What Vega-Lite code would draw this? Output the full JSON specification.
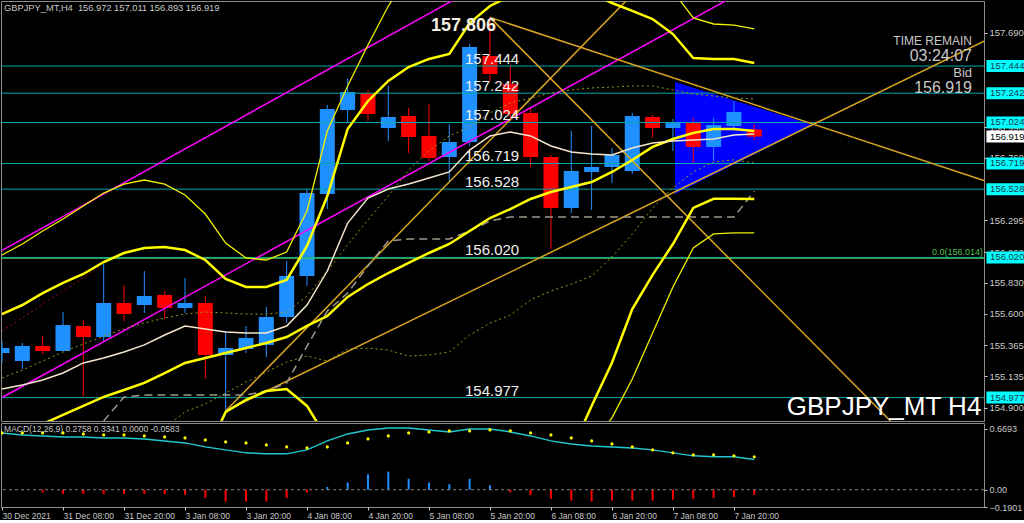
{
"$schema":"https://vega.github.io/schema/vega-lite/v6.json",
"background":"#000000",
"padding":0,
"spacing":0,
"config":{
 "view":{"stroke":"#8c8c8c","strokeWidth":1},
 "scale":{"continuousPadding":0},
 "axis":{"grid":false,"domain":false,"labelColor":"#c8c8c8","tickColor":"#c8c8c8","labelFont":"Liberation Sans","labelFontSize":9.5,"tickSize":3,"labelPadding":2},
 "text":{"font":"Liberation Sans"}
},
"datasets":{
 "candles":[
  {"i":0,"o":155.309,"h":155.398,"l":155.235,"c":155.346},
  {"i":1,"o":155.250,"h":155.384,"l":155.190,"c":155.361},
  {"i":2,"o":155.361,"h":155.435,"l":155.302,"c":155.324},
  {"i":3,"o":155.324,"h":155.614,"l":155.320,"c":155.517},
  {"i":4,"o":155.510,"h":155.555,"l":154.989,"c":155.428},
  {"i":5,"o":155.428,"h":155.971,"l":155.398,"c":155.681},
  {"i":6,"o":155.681,"h":155.815,"l":155.547,"c":155.599},
  {"i":7,"o":155.666,"h":155.919,"l":155.607,"c":155.733},
  {"i":8,"o":155.741,"h":155.770,"l":155.562,"c":155.644},
  {"i":9,"o":155.644,"h":155.867,"l":155.607,"c":155.681},
  {"i":10,"o":155.681,"h":155.733,"l":155.116,"c":155.294},
  {"i":11,"o":155.294,"h":155.473,"l":154.878,"c":155.346},
  {"i":12,"o":155.339,"h":155.510,"l":155.309,"c":155.421},
  {"i":13,"o":155.369,"h":155.651,"l":155.279,"c":155.577},
  {"i":14,"o":155.577,"h":155.994,"l":155.532,"c":155.882},
  {"i":15,"o":155.882,"h":156.529,"l":155.808,"c":156.500},
  {"i":16,"o":156.492,"h":157.154,"l":156.381,"c":157.125},
  {"i":17,"o":157.117,"h":157.355,"l":157.020,"c":157.251},
  {"i":18,"o":157.244,"h":157.266,"l":157.035,"c":157.087},
  {"i":19,"o":156.983,"h":157.296,"l":156.886,"c":157.065},
  {"i":20,"o":157.072,"h":157.132,"l":156.797,"c":156.916},
  {"i":21,"o":156.924,"h":157.162,"l":156.738,"c":156.760},
  {"i":22,"o":156.767,"h":157.013,"l":156.589,"c":156.879},
  {"i":23,"o":156.879,"h":157.608,"l":156.849,"c":157.586},
  {"i":24,"o":157.519,"h":157.806,"l":157.333,"c":157.385},
  {"i":25,"o":157.310,"h":157.444,"l":157.035,"c":157.087},
  {"i":26,"o":157.095,"h":157.132,"l":156.693,"c":156.767},
  {"i":27,"o":156.767,"h":156.782,"l":156.083,"c":156.388},
  {"i":28,"o":156.388,"h":156.961,"l":156.351,"c":156.663},
  {"i":29,"o":156.656,"h":156.998,"l":156.373,"c":156.693},
  {"i":30,"o":156.693,"h":156.834,"l":156.574,"c":156.782},
  {"i":31,"o":156.663,"h":157.095,"l":156.641,"c":157.072},
  {"i":32,"o":157.065,"h":157.080,"l":156.909,"c":156.983},
  {"i":33,"o":156.983,"h":157.050,"l":156.812,"c":157.020},
  {"i":34,"o":157.020,"h":157.058,"l":156.723,"c":156.842},
  {"i":35,"o":156.842,"h":157.058,"l":156.738,"c":157.005},
  {"i":36,"o":156.998,"h":157.184,"l":156.976,"c":157.102},
  {"i":37,"o":156.972,"h":157.011,"l":156.893,"c":156.919}
 ],
 "ind":[
  {"i":0,"a":156.038,"b":155.599,"m":154.639,"bl":153.679,"al":153.240,"ma":155.041,"eu":155.123,"el":154.155,"dr":155.473,"zz":null},
  {"i":1,"a":156.120,"b":155.666,"m":154.706,"bl":153.746,"al":153.292,"ma":155.071,"eu":155.182,"el":154.230,"dr":155.569,"zz":null},
  {"i":2,"a":156.217,"b":155.755,"m":154.781,"bl":153.807,"al":153.345,"ma":155.108,"eu":155.249,"el":154.313,"dr":155.674,"zz":null},
  {"i":3,"a":156.306,"b":155.830,"m":154.848,"bl":153.866,"al":153.390,"ma":155.160,"eu":155.316,"el":154.380,"dr":155.770,"zz":null},
  {"i":4,"a":156.403,"b":155.897,"m":154.915,"bl":153.933,"al":153.427,"ma":155.235,"eu":155.376,"el":154.454,"dr":155.867,"zz":null},
  {"i":5,"a":156.499,"b":155.986,"m":154.982,"bl":153.978,"al":153.465,"ma":155.272,"eu":155.435,"el":154.529,"dr":155.979,"zz":154.803},
  {"i":6,"a":156.566,"b":156.053,"m":155.034,"bl":154.015,"al":153.502,"ma":155.316,"eu":155.488,"el":154.580,"dr":null,"zz":154.982},
  {"i":7,"a":156.596,"b":156.090,"m":155.086,"bl":154.082,"al":153.576,"ma":155.369,"eu":155.532,"el":154.640,"dr":null,"zz":154.997},
  {"i":8,"a":156.566,"b":156.098,"m":155.160,"bl":154.222,"al":153.754,"ma":155.443,"eu":155.569,"el":154.751,"dr":null,"zz":154.997},
  {"i":9,"a":156.485,"b":156.075,"m":155.235,"bl":154.395,"al":153.985,"ma":155.510,"eu":155.599,"el":154.871,"dr":null,"zz":154.997},
  {"i":10,"a":156.343,"b":156.001,"m":155.272,"bl":154.543,"al":154.201,"ma":155.488,"eu":155.614,"el":154.930,"dr":null,"zz":154.997},
  {"i":11,"a":156.127,"b":155.860,"m":155.309,"bl":154.870,"al":154.491,"ma":155.465,"eu":155.607,"el":155.011,"dr":null,"zz":154.997},
  {"i":12,"a":156.016,"b":155.800,"m":155.346,"bl":154.960,"al":154.676,"ma":155.458,"eu":155.599,"el":155.093,"dr":null,"zz":154.997},
  {"i":13,"a":156.001,"b":155.800,"m":155.383,"bl":155.026,"al":154.765,"ma":155.458,"eu":155.599,"el":155.167,"dr":null,"zz":155.026},
  {"i":14,"a":156.060,"b":155.852,"m":155.428,"bl":155.041,"al":154.796,"ma":155.510,"eu":155.614,"el":155.242,"dr":null,"zz":155.086},
  {"i":15,"a":156.366,"b":156.105,"m":155.510,"bl":154.915,"al":154.654,"ma":155.666,"eu":155.733,"el":155.287,"dr":null,"zz":155.361},
  {"i":16,"a":156.961,"b":156.477,"m":155.584,"bl":154.670,"al":154.207,"ma":155.919,"eu":155.919,"el":155.249,"dr":null,"zz":155.621},
  {"i":17,"a":157.296,"b":156.976,"m":155.726,"bl":154.476,"al":154.156,"ma":156.276,"eu":156.113,"el":155.339,"dr":null,"zz":155.755},
  {"i":18,"a":157.601,"b":157.184,"m":155.822,"bl":154.460,"al":154.043,"ma":156.462,"eu":156.299,"el":155.345,"dr":null,"zz":155.956},
  {"i":19,"a":157.891,"b":157.333,"m":155.904,"bl":154.475,"al":153.917,"ma":156.529,"eu":156.477,"el":155.331,"dr":null,"zz":156.142},
  {"i":20,"a":158.114,"b":157.437,"m":155.979,"bl":154.521,"al":153.844,"ma":156.566,"eu":156.671,"el":155.287,"dr":null,"zz":156.157},
  {"i":21,"a":158.263,"b":157.497,"m":156.053,"bl":154.609,"al":153.843,"ma":156.611,"eu":156.812,"el":155.294,"dr":null,"zz":156.157},
  {"i":22,"a":158.374,"b":157.534,"m":156.120,"bl":154.706,"al":153.866,"ma":156.656,"eu":156.924,"el":155.316,"dr":null,"zz":156.157},
  {"i":23,"a":158.672,"b":157.764,"m":156.217,"bl":154.670,"al":153.762,"ma":156.819,"eu":156.991,"el":155.443,"dr":null,"zz":156.217},
  {"i":24,"a":158.746,"b":157.891,"m":156.313,"bl":154.600,"al":153.880,"ma":156.924,"eu":157.095,"el":155.531,"dr":null,"zz":156.291},
  {"i":25,"a":158.746,"b":157.965,"m":156.380,"bl":154.450,"al":154.014,"ma":156.953,"eu":157.169,"el":155.591,"dr":null,"zz":156.321},
  {"i":26,"a":158.709,"b":158.002,"m":156.455,"bl":154.250,"al":154.201,"ma":156.924,"eu":157.206,"el":155.704,"dr":null,"zz":156.321},
  {"i":27,"a":158.672,"b":158.017,"m":156.507,"bl":154.380,"al":154.342,"ma":156.849,"eu":157.244,"el":155.770,"dr":null,"zz":156.321},
  {"i":28,"a":158.598,"b":158.017,"m":156.544,"bl":154.580,"al":154.490,"ma":156.805,"eu":157.266,"el":155.822,"dr":null,"zz":156.321},
  {"i":29,"a":158.523,"b":157.988,"m":156.581,"bl":154.915,"al":154.639,"ma":156.790,"eu":157.281,"el":155.881,"dr":null,"zz":156.321},
  {"i":30,"a":158.486,"b":157.913,"m":156.656,"bl":155.236,"al":154.826,"ma":156.782,"eu":157.288,"el":156.024,"dr":null,"zz":156.321},
  {"i":31,"a":158.374,"b":157.854,"m":156.745,"bl":155.636,"al":155.116,"ma":156.834,"eu":157.296,"el":156.194,"dr":null,"zz":156.321},
  {"i":32,"a":158.226,"b":157.794,"m":156.842,"bl":155.890,"al":155.458,"ma":156.871,"eu":157.296,"el":156.388,"dr":null,"zz":156.321},
  {"i":33,"a":158.002,"b":157.682,"m":156.901,"bl":156.120,"al":155.800,"ma":156.886,"eu":157.266,"el":156.536,"dr":null,"zz":156.321},
  {"i":34,"a":157.802,"b":157.504,"m":156.946,"bl":156.388,"al":156.090,"ma":156.894,"eu":157.236,"el":156.656,"dr":null,"zz":156.321},
  {"i":35,"a":157.757,"b":157.496,"m":156.976,"bl":156.456,"al":156.195,"ma":156.901,"eu":157.221,"el":156.731,"dr":null,"zz":156.321},
  {"i":36,"a":157.749,"b":157.496,"m":156.976,"bl":156.456,"al":156.203,"ma":156.931,"eu":157.206,"el":156.746,"dr":null,"zz":156.321},
  {"i":37,"a":157.720,"b":157.467,"m":156.961,"bl":156.455,"al":156.202,"ma":156.938,"eu":157.199,"el":156.723,"dr":null,"zz":156.514}
 ],
 "tl":[
  {"id":"L1","i":24,"p":157.806},{"id":"L1","i":48.3,"p":156.593},
  {"id":"L2","i":24,"p":157.806},{"id":"L2","i":43.7,"p":154.803},
  {"id":"L3","i":11,"p":154.878},{"id":"L3","i":31,"p":157.976},
  {"id":"L4","i":11,"p":154.878},{"id":"L4","i":48.3,"p":157.630}
 ],
 "mg":[
  {"id":"M1","i":0,"p":156.072},{"id":"M1","i":23,"p":158.002},
  {"id":"M2","i":0,"p":154.978},{"id":"M2","i":36,"p":157.963}
 ],
 "tri":[
  {"i":33.1,"top":157.325,"bot":156.492},
  {"i":39.89,"top":157.006,"bot":157.006}
 ],
 "hl":[{"p":157.444},{"p":157.242},{"p":157.024},{"p":156.719},{"p":156.528},{"p":156.020},{"p":154.977}],
 "fib":[{"p":156.014}],
 "bid":[{"p":156.919}],
 "macd":[
  {"i":0,"cy":0.626,"ye":0.626,"h":0},
  {"i":1,"cy":0.604,"ye":0.626,"h":-0.005},
  {"i":2,"cy":0.593,"ye":0.626,"h":-0.03},
  {"i":3,"cy":0.582,"ye":0.626,"h":-0.045},
  {"i":4,"cy":0.582,"ye":0.615,"h":-0.045},
  {"i":5,"cy":0.571,"ye":0.604,"h":-0.045},
  {"i":6,"cy":0.571,"ye":0.604,"h":-0.045},
  {"i":7,"cy":0.560,"ye":0.593,"h":-0.045},
  {"i":8,"cy":0.538,"ye":0.582,"h":-0.05},
  {"i":9,"cy":0.516,"ye":0.571,"h":-0.055},
  {"i":10,"cy":0.472,"ye":0.549,"h":-0.09},
  {"i":11,"cy":0.439,"ye":0.527,"h":-0.13},
  {"i":12,"cy":0.406,"ye":0.516,"h":-0.13},
  {"i":13,"cy":0.395,"ye":0.494,"h":-0.13},
  {"i":14,"cy":0.395,"ye":0.472,"h":-0.09},
  {"i":15,"cy":0.439,"ye":0.461,"h":-0.03},
  {"i":16,"cy":0.538,"ye":0.472,"h":0.03},
  {"i":17,"cy":0.615,"ye":0.516,"h":0.08},
  {"i":18,"cy":0.659,"ye":0.560,"h":0.17},
  {"i":19,"cy":0.681,"ye":0.593,"h":0.2},
  {"i":20,"cy":0.681,"ye":0.626,"h":0.12},
  {"i":21,"cy":0.659,"ye":0.637,"h":0.08},
  {"i":22,"cy":0.637,"ye":0.648,"h":0.06},
  {"i":23,"cy":0.670,"ye":0.648,"h":0.12},
  {"i":24,"cy":0.670,"ye":0.659,"h":0.05},
  {"i":25,"cy":0.637,"ye":0.648,"h":-0.03},
  {"i":26,"cy":0.593,"ye":0.626,"h":-0.06},
  {"i":27,"cy":0.538,"ye":0.604,"h":-0.1},
  {"i":28,"cy":0.505,"ye":0.571,"h":-0.12},
  {"i":29,"cy":0.483,"ye":0.538,"h":-0.13},
  {"i":30,"cy":0.472,"ye":0.505,"h":-0.12},
  {"i":31,"cy":0.461,"ye":0.472,"h":-0.12},
  {"i":32,"cy":0.439,"ye":0.439,"h":-0.12},
  {"i":33,"cy":0.406,"ye":0.406,"h":-0.11},
  {"i":34,"cy":0.373,"ye":0.384,"h":-0.1},
  {"i":35,"cy":0.362,"ye":0.384,"h":-0.09},
  {"i":36,"cy":0.362,"ye":0.373,"h":-0.08},
  {"i":37,"cy":0.334,"ye":0.362,"h":-0.058}
 ]
},
"vconcat":[
 {
  "width":983,"height":420,
  "layer":[
   {"data":{"name":"tri"},"mark":{"type":"area","color":"#0000ff","opacity":1,"clip":true},
    "encoding":{
     "x":{"field":"i","type":"quantitative","scale":{"domain":[-0.05,48.3],"nice":false,"zero":false,"padding":0},"axis":null},
     "y":{"field":"top","type":"quantitative","scale":{"domain":[154.803,157.928],"nice":false,"zero":false,"padding":0},
          "axis":{"orient":"right","title":null,"values":[157.690,156.990,156.760,156.295,156.060,155.830,155.600,155.365,155.135,154.900],"format":".3f","labels":true,"ticks":true,"labelColor":"#c8c8c8","tickColor":"#c8c8c8","labelFontSize":9.5,"labelFont":"Liberation Sans","tickSize":3,"labelPadding":2,"zindex":0}},
     "y2":{"field":"bot"}}},
   {"data":{"name":"candles"},"mark":{"type":"rule","strokeWidth":1,"clip":true},
    "encoding":{"x":{"field":"i","type":"quantitative","scale":{"domain":[-0.05,48.3],"nice":false,"zero":false,"padding":0}},"y":{"field":"l","type":"quantitative","scale":{"domain":[154.803,157.928],"nice":false,"zero":false,"padding":0}},"y2":{"field":"h"},
     "color":{"condition":{"test":"datum.c >= datum.o","value":"#1e90ff"},"value":"#ff0000"}}},
   {"data":{"name":"candles"},"mark":{"type":"bar","width":15,"clip":true},
    "encoding":{"x":{"field":"i","type":"quantitative","scale":{"domain":[-0.05,48.3],"nice":false,"zero":false,"padding":0}},"y":{"field":"o","type":"quantitative","scale":{"domain":[154.803,157.928],"nice":false,"zero":false,"padding":0}},"y2":{"field":"c"},
     "color":{"condition":{"test":"datum.c >= datum.o","value":"#1e90ff"},"value":"#ff0000"}}},
   {"data":{"name":"hl"},"mark":{"type":"rule","color":"#00a8a8","strokeWidth":1},
    "encoding":{"y":{"field":"p","type":"quantitative","scale":{"domain":[154.803,157.928],"nice":false,"zero":false,"padding":0}}}},
   {"data":{"name":"fib"},"mark":{"type":"rule","color":"#55cc55","strokeWidth":1},
    "encoding":{"y":{"field":"p","type":"quantitative","scale":{"domain":[154.803,157.928],"nice":false,"zero":false,"padding":0}}}},
   {"data":{"name":"mg"},"mark":{"type":"line","color":"#ff00ff","strokeWidth":1.5,"clip":true},
    "encoding":{"x":{"field":"i","type":"quantitative","scale":{"domain":[-0.05,48.3],"nice":false,"zero":false,"padding":0}},"y":{"field":"p","type":"quantitative","scale":{"domain":[154.803,157.928],"nice":false,"zero":false,"padding":0}},"detail":{"field":"id"}}},
   {"data":{"name":"tl"},"mark":{"type":"line","color":"#daa520","strokeWidth":1.5,"clip":true},
    "encoding":{"x":{"field":"i","type":"quantitative","scale":{"domain":[-0.05,48.3],"nice":false,"zero":false,"padding":0}},"y":{"field":"p","type":"quantitative","scale":{"domain":[154.803,157.928],"nice":false,"zero":false,"padding":0}},"detail":{"field":"id"}}},
   {"data":{"name":"ind"},"mark":{"type":"line","color":"#9a9a1a","strokeWidth":1,"strokeDash":[2,3],"clip":true},
    "encoding":{"x":{"field":"i","type":"quantitative","scale":{"domain":[-0.05,48.3],"nice":false,"zero":false,"padding":0}},"y":{"field":"eu","type":"quantitative","scale":{"domain":[154.803,157.928],"nice":false,"zero":false,"padding":0}}}},
   {"data":{"name":"ind"},"mark":{"type":"line","color":"#9a9a1a","strokeWidth":1,"strokeDash":[2,3],"clip":true},
    "encoding":{"x":{"field":"i","type":"quantitative","scale":{"domain":[-0.05,48.3],"nice":false,"zero":false,"padding":0}},"y":{"field":"el","type":"quantitative","scale":{"domain":[154.803,157.928],"nice":false,"zero":false,"padding":0}}}},
   {"data":{"name":"ind"},"mark":{"type":"line","color":"#a01010","strokeWidth":1,"strokeDash":[2,3],"clip":true},
    "encoding":{"x":{"field":"i","type":"quantitative","scale":{"domain":[-0.05,48.3],"nice":false,"zero":false,"padding":0}},"y":{"field":"dr","type":"quantitative","scale":{"domain":[154.803,157.928],"nice":false,"zero":false,"padding":0}}}},
   {"data":{"name":"ind"},"mark":{"type":"line","color":"#a0988c","strokeWidth":1.5,"strokeDash":[8,5],"clip":true},
    "encoding":{"x":{"field":"i","type":"quantitative","scale":{"domain":[-0.05,48.3],"nice":false,"zero":false,"padding":0}},"y":{"field":"zz","type":"quantitative","scale":{"domain":[154.803,157.928],"nice":false,"zero":false,"padding":0}}}},
   {"data":{"name":"ind"},"mark":{"type":"line","color":"#f0f000","strokeWidth":1.3,"clip":true},
    "encoding":{"x":{"field":"i","type":"quantitative","scale":{"domain":[-0.05,48.3],"nice":false,"zero":false,"padding":0}},"y":{"field":"a","type":"quantitative","scale":{"domain":[154.803,157.928],"nice":false,"zero":false,"padding":0}}}},
   {"data":{"name":"ind"},"mark":{"type":"line","color":"#f0f000","strokeWidth":1.3,"clip":true},
    "encoding":{"x":{"field":"i","type":"quantitative","scale":{"domain":[-0.05,48.3],"nice":false,"zero":false,"padding":0}},"y":{"field":"al","type":"quantitative","scale":{"domain":[154.803,157.928],"nice":false,"zero":false,"padding":0}}}},
   {"data":{"name":"ind"},"mark":{"type":"line","color":"#ffff00","strokeWidth":2.5,"clip":true},
    "encoding":{"x":{"field":"i","type":"quantitative","scale":{"domain":[-0.05,48.3],"nice":false,"zero":false,"padding":0}},"y":{"field":"b","type":"quantitative","scale":{"domain":[154.803,157.928],"nice":false,"zero":false,"padding":0}}}},
   {"data":{"name":"ind"},"mark":{"type":"line","color":"#ffff00","strokeWidth":2.5,"clip":true},
    "encoding":{"x":{"field":"i","type":"quantitative","scale":{"domain":[-0.05,48.3],"nice":false,"zero":false,"padding":0}},"y":{"field":"bl","type":"quantitative","scale":{"domain":[154.803,157.928],"nice":false,"zero":false,"padding":0}}}},
   {"data":{"name":"ind"},"mark":{"type":"line","color":"#ffff00","strokeWidth":2.5,"clip":true},
    "encoding":{"x":{"field":"i","type":"quantitative","scale":{"domain":[-0.05,48.3],"nice":false,"zero":false,"padding":0}},"y":{"field":"m","type":"quantitative","scale":{"domain":[154.803,157.928],"nice":false,"zero":false,"padding":0}}}},
   {"data":{"name":"ind"},"mark":{"type":"line","color":"#f5e6cc","strokeWidth":1.5,"clip":true},
    "encoding":{"x":{"field":"i","type":"quantitative","scale":{"domain":[-0.05,48.3],"nice":false,"zero":false,"padding":0}},"y":{"field":"ma","type":"quantitative","scale":{"domain":[154.803,157.928],"nice":false,"zero":false,"padding":0}}}},
   {"data":{"name":"hl"},"mark":{"type":"text","align":"left","baseline":"alphabetic","dy":-2,"fontSize":15,"color":"#f0f0f0"},
    "encoding":{"x":{"datum":22.77,"type":"quantitative","scale":{"domain":[-0.05,48.3],"nice":false,"zero":false,"padding":0}},"y":{"field":"p","type":"quantitative","scale":{"domain":[154.803,157.928],"nice":false,"zero":false,"padding":0}},"text":{"field":"p","type":"quantitative","format":".3f"}}},
   {"data":{"values":[{"p":157.806}]},"mark":{"type":"text","align":"left","baseline":"top","fontSize":18,"fontWeight":"bold","color":"#f5efe0"},
    "encoding":{"x":{"datum":21.1,"type":"quantitative","scale":{"domain":[-0.05,48.3],"nice":false,"zero":false,"padding":0}},"y":{"field":"p","type":"quantitative","scale":{"domain":[154.803,157.928],"nice":false,"zero":false,"padding":0}},"text":{"field":"p","type":"quantitative","format":".3f"}}},
   {"data":{"name":"hl"},"mark":{"type":"bar","orient":"horizontal","height":12,"color":"#00ffff","clip":false},
    "encoding":{"y":{"field":"p","type":"quantitative","scale":{"domain":[154.803,157.928],"nice":false,"zero":false,"padding":0}},"x":{"datum":48.42,"type":"quantitative","scale":{"domain":[-0.05,48.3],"nice":false,"zero":false,"padding":0}},"x2":{"datum":50.3}}},
   {"data":{"name":"bid"},"mark":{"type":"bar","orient":"horizontal","height":12,"color":"#ffffff","clip":false},
    "encoding":{"y":{"field":"p","type":"quantitative","scale":{"domain":[154.803,157.928],"nice":false,"zero":false,"padding":0}},"x":{"datum":48.42,"type":"quantitative","scale":{"domain":[-0.05,48.3],"nice":false,"zero":false,"padding":0}},"x2":{"datum":50.3}}},
   {"data":{"name":"hl"},"mark":{"type":"text","align":"left","baseline":"middle","fontSize":9.5,"color":"#183848","clip":false},
    "encoding":{"x":{"datum":48.6,"type":"quantitative","scale":{"domain":[-0.05,48.3],"nice":false,"zero":false,"padding":0}},"y":{"field":"p","type":"quantitative","scale":{"domain":[154.803,157.928],"nice":false,"zero":false,"padding":0}},"text":{"field":"p","type":"quantitative","format":".3f"}}},
   {"data":{"name":"bid"},"mark":{"type":"text","align":"left","baseline":"middle","fontSize":9.5,"color":"#000000","clip":false},
    "encoding":{"x":{"datum":48.6,"type":"quantitative","scale":{"domain":[-0.05,48.3],"nice":false,"zero":false,"padding":0}},"y":{"field":"p","type":"quantitative","scale":{"domain":[154.803,157.928],"nice":false,"zero":false,"padding":0}},"text":{"field":"p","type":"quantitative","format":".3f"}}},
   {"data":{"values":[{"t":"GBPJPY_MT,H4\u00a0 156.972 157.011 156.893 156.919"}]},"mark":{"type":"text","align":"left","baseline":"middle","fontSize":9.3,"color":"#c8c8c8"},
    "encoding":{"x":{"datum":0.1,"type":"quantitative","scale":{"domain":[-0.05,48.3],"nice":false,"zero":false,"padding":0}},"y":{"datum":157.876,"type":"quantitative","scale":{"domain":[154.803,157.928],"nice":false,"zero":false,"padding":0}},"text":{"field":"t"}}},
   {"data":{"values":[{"t":"TIME REMAIN"}]},"mark":{"type":"text","align":"right","baseline":"middle","fontSize":12,"color":"#c8c8c8"},
    "encoding":{"x":{"datum":47.71,"type":"quantitative","scale":{"domain":[-0.05,48.3],"nice":false,"zero":false,"padding":0}},"y":{"datum":157.630,"type":"quantitative","scale":{"domain":[154.803,157.928],"nice":false,"zero":false,"padding":0}},"text":{"field":"t"}}},
   {"data":{"values":[{"t":"03:24:07"}]},"mark":{"type":"text","align":"right","baseline":"middle","fontSize":16,"color":"#c8c8c8"},
    "encoding":{"x":{"datum":47.71,"type":"quantitative","scale":{"domain":[-0.05,48.3],"nice":false,"zero":false,"padding":0}},"y":{"datum":157.519,"type":"quantitative","scale":{"domain":[154.803,157.928],"nice":false,"zero":false,"padding":0}},"text":{"field":"t"}}},
   {"data":{"values":[{"t":"Bid"}]},"mark":{"type":"text","align":"right","baseline":"middle","fontSize":13,"color":"#c8c8c8"},
    "encoding":{"x":{"datum":47.71,"type":"quantitative","scale":{"domain":[-0.05,48.3],"nice":false,"zero":false,"padding":0}},"y":{"datum":157.392,"type":"quantitative","scale":{"domain":[154.803,157.928],"nice":false,"zero":false,"padding":0}},"text":{"field":"t"}}},
   {"data":{"values":[{"t":"156.919"}]},"mark":{"type":"text","align":"right","baseline":"middle","fontSize":16,"color":"#c8c8c8"},
    "encoding":{"x":{"datum":47.71,"type":"quantitative","scale":{"domain":[-0.05,48.3],"nice":false,"zero":false,"padding":0}},"y":{"datum":157.281,"type":"quantitative","scale":{"domain":[154.803,157.928],"nice":false,"zero":false,"padding":0}},"text":{"field":"t"}}},
   {"data":{"values":[{"t":"GBPJPY_MT H4"}]},"mark":{"type":"text","align":"right","baseline":"middle","fontSize":26,"color":"#ffffff"},
    "encoding":{"x":{"datum":48.17,"type":"quantitative","scale":{"domain":[-0.05,48.3],"nice":false,"zero":false,"padding":0}},"y":{"datum":154.907,"type":"quantitative","scale":{"domain":[154.803,157.928],"nice":false,"zero":false,"padding":0}},"text":{"field":"t"}}},
   {"data":{"values":[{"t":"0.0(156.014)"}]},"mark":{"type":"text","align":"right","baseline":"middle","fontSize":9,"color":"#4cc04c"},
    "encoding":{"x":{"datum":48.25,"type":"quantitative","scale":{"domain":[-0.05,48.3],"nice":false,"zero":false,"padding":0}},"y":{"datum":156.060,"type":"quantitative","scale":{"domain":[154.803,157.928],"nice":false,"zero":false,"padding":0}},"text":{"field":"t"}}}
  ]
 },
 {
  "width":983,"height":84,
  "layer":[
   {"data":{"name":"macd"},"mark":{"type":"rule","strokeWidth":2,"clip":true},
    "encoding":{
     "x":{"field":"i","type":"quantitative","scale":{"domain":[-0.05,48.3],"nice":false,"zero":false,"padding":0},
       "axis":{"title":null,"values":[0,3,6,9,12,15,18,21,24,27,30,33,36],"labelAlign":"left","labelOverlap":false,"labelFlush":false,"labelPadding":1,"labels":true,"ticks":true,"labelColor":"#c8c8c8","tickColor":"#c8c8c8","labelFontSize":8.5,"labelFont":"Liberation Sans","tickSize":3,"zindex":1,
         "labelExpr":"['30 Dec 2021','31 Dec 08:00','31 Dec 20:00','3 Jan 08:00','3 Jan 20:00','4 Jan 08:00','4 Jan 20:00','5 Jan 08:00','5 Jan 20:00','6 Jan 08:00','6 Jan 20:00','7 Jan 08:00','7 Jan 20:00'][round(datum.value/3)]"}},
     "y":{"field":"h","type":"quantitative","scale":{"domain":[-0.1901,0.735],"nice":false,"zero":false,"padding":0},
      "axis":{"orient":"right","title":null,"values":[0.6693,0,-0.1901],"labels":true,"ticks":true,"labelColor":"#c8c8c8","tickColor":"#c8c8c8","labelFontSize":9,"labelFont":"Liberation Sans","tickSize":3,"labelPadding":2,"zindex":1,"labelExpr":"datum.value==0?'0.00':format(datum.value,'.4f')"}},
     "y2":{"datum":0},
     "color":{"condition":{"test":"datum.h >= 0","value":"#1e90ff"},"value":"#ff0000"}}},
   {"data":{"values":[{"v":0}]},"mark":{"type":"rule","color":"#808080","strokeDash":[3,3],"strokeWidth":1},
    "encoding":{"y":{"field":"v","type":"quantitative","scale":{"domain":[-0.1901,0.735],"nice":false,"zero":false,"padding":0}}}},
   {"data":{"name":"macd"},"mark":{"type":"line","color":"#20c8d0","strokeWidth":1.5,"clip":true},
    "encoding":{"x":{"field":"i","type":"quantitative","scale":{"domain":[-0.05,48.3],"nice":false,"zero":false,"padding":0}},"y":{"field":"cy","type":"quantitative","scale":{"domain":[-0.1901,0.735],"nice":false,"zero":false,"padding":0}}}},
   {"data":{"name":"macd"},"mark":{"type":"point","filled":true,"size":10,"color":"#ffff00","opacity":1,"clip":true},
    "encoding":{"x":{"field":"i","type":"quantitative","scale":{"domain":[-0.05,48.3],"nice":false,"zero":false,"padding":0}},"y":{"field":"ye","type":"quantitative","scale":{"domain":[-0.1901,0.735],"nice":false,"zero":false,"padding":0}}}},
   {"data":{"values":[{"t":"MACD(12,26,9) 0.2758 0.3341 0.0000 -0.0583"}]},"mark":{"type":"text","align":"left","baseline":"middle","fontSize":8.5,"color":"#c8c8c8"},
    "encoding":{"x":{"datum":0.1,"type":"quantitative","scale":{"domain":[-0.05,48.3],"nice":false,"zero":false,"padding":0}},"y":{"datum":0.6693,"type":"quantitative","scale":{"domain":[-0.1901,0.735],"nice":false,"zero":false,"padding":0}},"text":{"field":"t"}}}
  ]
 }
]
}
